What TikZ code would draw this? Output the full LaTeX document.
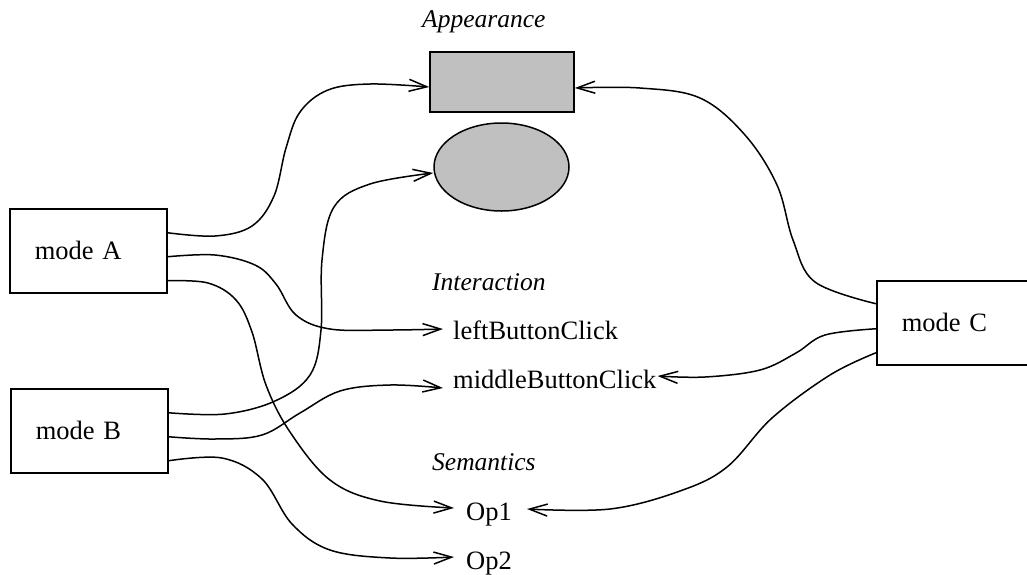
\documentclass[tikz,border=0pt]{standalone}
\usepackage{fontspec}
\setmainfont{Liberation Serif}
\usetikzlibrary{arrows.meta,shapes.geometric}
\definecolor{figgray}{RGB}{192,192,192}
\tikzset{
  every node/.style={font=\fontsize{26.5}{30}\selectfont},
  modebox/.style={draw, line width=1.5pt, anchor=north west, text width=107pt, inner xsep=25pt, inner ysep=0pt, minimum height=84pt, align=left},
  lbl/.style={inner sep=0pt, anchor=base west},
  section/.style={inner sep=0pt, anchor=base west, font=\fontsize{25.5}{30}\selectfont\itshape},
  conn/.style={line width=1.5pt, -{Straight Barb[length=18pt,width=12pt,line width=1.5pt]}},
  shapebox/.style={draw, line width=1.5pt, fill=figgray, inner sep=0pt}
}
\begin{document}
\begin{tikzpicture}[x=1pt,y=-1pt]
\clip (0,0) rectangle (1027,574);
\fill[white] (0,0) rectangle (1027,574);
% boxes
\node[modebox] (A) at (9,208) {mode A};
\node[modebox] (B) at (10,388) {mode B};
\node[modebox, text width=125pt] (C) at (876,280) {mode C};
% appearance shapes
\node[shapebox, minimum width=144pt, minimum height=60pt] (rect) at (502,82) {};
\node[shapebox, ellipse, minimum width=135pt, minimum height=88pt] (blob) at (501.5,167) {};
% labels
\node[section] (app) at (422,27) {Appearance};
\node[section] (inter) at (432,290) {Interaction};
\node[section] (sem) at (432,470) {Semantics};
\node[lbl] (lbc) at (453,339) {leftButtonClick};
\node[lbl] (mbc) at (453,388) {middleButtonClick};
\node[lbl] (op1) at (466,520) {Op1};
\node[lbl] (op2) at (466,569) {Op2};
% connectors from mode A
\draw[conn] plot[smooth, tension=0.6] coordinates {([yshift=18pt]A.east) (215,236) (252,226) (274,196) (286,148) (300,112) (328,90) (370,84) ([yshift=-5pt]rect.west)};
\draw[conn] plot[smooth, tension=0.6] coordinates {([yshift=-6pt]A.east) (215,255) (255,265) (276,284) (296,315) (330,329) (390,330) ([xshift=-10pt,yshift=10pt]lbc.base west)};
\draw[conn] plot[smooth, tension=0.6] coordinates {([yshift=-30pt]A.east) (208,283) (236,300) (252,332) (266,385) (290,432) (330,480) (380,501) ([xshift=-12pt,yshift=12pt]op1.base west)};
% connectors from mode B
\draw[conn] plot[smooth, tension=0.6] coordinates {([yshift=18pt]B.east) (225,414) (275,401) (310,375) (321,330) (322,260) (334,207) (370,184) ([yshift=-6pt]blob.west)};
\draw[conn] plot[smooth, tension=0.6] coordinates {([yshift=-6pt]B.east) (215,439) (262,435) (300,413) (340,391) (390,385) ([xshift=-10pt]mbc.base west)};
\draw[conn] plot[smooth, tension=0.6] coordinates {([yshift=-30pt]B.east) (222,458) (262,479) (292,524) (330,550) (390,558) ([xshift=-12pt,yshift=12pt]op2.base west)};
% connectors from mode C
\draw[conn] plot[smooth, tension=0.6] coordinates {([yshift=19pt]C.west) (815,282) (793,240) (777,185) (745,135) (700,98) (640,88) ([yshift=-6pt]rect.east)};
\draw[conn] plot[smooth, tension=0.6] coordinates {([yshift=-6pt]C.west) (825,335) (796,353) (760,370) (705,377) ([xshift=1pt,yshift=12pt]mbc.base east)};
\draw[conn] plot[smooth, tension=0.6] coordinates {([yshift=-30pt]C.west) (830,375) (772,418) (727,467) (680,491) (610,509) ([xshift=15pt,yshift=11pt]op1.base east)};
\end{tikzpicture}
\end{document}
